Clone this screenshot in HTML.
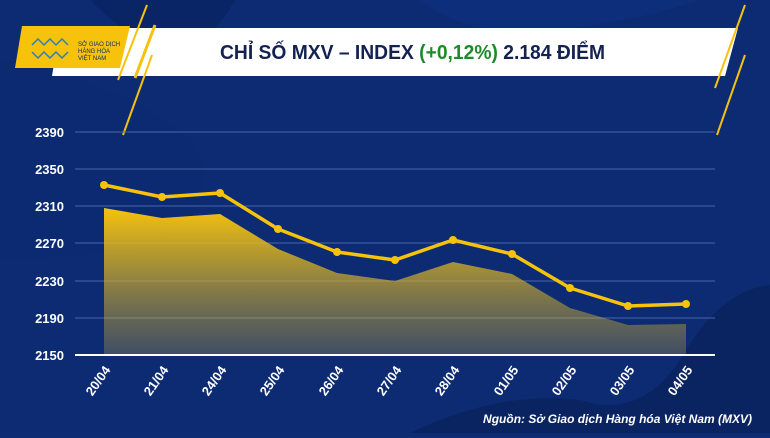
<!DOCTYPE html>
<html><head><meta charset="utf-8"><style>
body{margin:0;width:770px;height:433px;overflow:hidden;background:#0d2c74;font-family:"Liberation Sans",sans-serif}
</style></head><body>
<svg width="770" height="433" viewBox="0 0 770 433" xmlns="http://www.w3.org/2000/svg">
<defs>
<linearGradient id="ar" x1="0" y1="0" x2="0" y2="1">
<stop offset="0" stop-color="#f7c20c"/><stop offset="1" stop-color="#b8a040" stop-opacity="0.3"/>
</linearGradient>
</defs>
<rect width="770" height="433" fill="#0c2b73"/>
<path d="M90 0 Q140 50 175 48 Q210 45 235 0Z" fill="#0a2566"/>
<path d="M0 60 Q120 80 190 140 Q230 200 150 250 L0 260Z" fill="#0b2a6f" opacity="0.6"/>
<path d="M410 433 Q500 390 580 400 Q640 420 680 360 Q720 290 770 285 L770 433Z" fill="#0a2461"/>
<path d="M420 0 Q470 40 560 30 Q640 20 700 0Z" fill="#0e3080" opacity="0.6"/>
<polygon points="60,28 738,28 725,76 52,76" fill="#fff"/>
<polygon points="22,26 130,26 120,68 15,68" fill="#f7c20c"/>
<line x1="147" y1="5" x2="118" y2="80" stroke="#f7c20c" stroke-width="2"/>
<line x1="152" y1="55" x2="123" y2="135" stroke="#f7c20c" stroke-width="2"/>
<line x1="155" y1="25" x2="135" y2="78" stroke="#f7c20c" stroke-width="3"/>
<line x1="745" y1="5" x2="715" y2="88" stroke="#f7c20c" stroke-width="2"/>
<line x1="745" y1="55" x2="717" y2="135" stroke="#f7c20c" stroke-width="2"/>
<g fill="none" stroke="#2a7fbf" stroke-width="1.5">
<path d="M32 45 l6 -6 l6 6 l6 -6 l6 6 l6 -6 l6 6 M32 52 l6 6 l6 -6 l6 6 l6 -6 l6 6 l6 -6"/>
</g>
<text x="78" y="46" font-size="6" fill="#0d2c74">SỞ GIAO DỊCH</text>
<text x="78" y="53" font-size="6" fill="#0d2c74">HÀNG HÓA</text>
<text x="78" y="60" font-size="6" fill="#0d2c74">VIỆT NAM</text>
<text x="220" y="59" font-size="20" font-weight="bold" fill="#142252" textLength="385" lengthAdjust="spacingAndGlyphs">CHỈ SỐ MXV – INDEX <tspan fill="#1f8a2a">(+0,12%)</tspan> 2.184 ĐIỂM</text>
<g stroke="#4a66a8" stroke-width="1">
<line x1="75" y1="132" x2="715" y2="132"/><line x1="75" y1="169" x2="715" y2="169"/>
<line x1="75" y1="206" x2="715" y2="206"/><line x1="75" y1="243" x2="715" y2="243"/>
<line x1="75" y1="281" x2="715" y2="281"/><line x1="75" y1="318" x2="715" y2="318"/>
</g>
<g font-size="13" font-weight="bold" fill="#fff" text-anchor="end">
<text x="64" y="137">2390</text><text x="64" y="174">2350</text><text x="64" y="211">2310</text>
<text x="64" y="248">2270</text><text x="64" y="286">2230</text><text x="64" y="323">2190</text><text x="64" y="360">2150</text>
</g>
<polygon points="104,355 104,208 162,218 220,214 278,249 337,273 395,281 453,262 512,274 570,308 628,325 686,324 686,355" fill="url(#ar)"/>
<line x1="75" y1="355" x2="715" y2="355" stroke="#fff" stroke-width="2"/>
<polyline points="104,185 162,197 220,193 278,229 337,252 395,260 453,240 512,254 570,288 628,306 686,304" fill="none" stroke="#f7c20c" stroke-width="3.5" stroke-linejoin="round"/>
<g fill="#f7c20c">
<circle cx="104" cy="185" r="4"/><circle cx="162" cy="197" r="4"/><circle cx="220" cy="193" r="4"/><circle cx="278" cy="229" r="4"/><circle cx="337" cy="252" r="4"/><circle cx="395" cy="260" r="4"/><circle cx="453" cy="240" r="4"/><circle cx="512" cy="254" r="4"/><circle cx="570" cy="288" r="4"/><circle cx="628" cy="306" r="4"/><circle cx="686" cy="304" r="4"/>
</g>
<g font-size="13" font-weight="bold" fill="#fff" text-anchor="end">
<text transform="translate(111,370) rotate(-55)">20/04</text>
<text transform="translate(169,370) rotate(-55)">21/04</text>
<text transform="translate(227,370) rotate(-55)">24/04</text>
<text transform="translate(285,370) rotate(-55)">25/04</text>
<text transform="translate(344,370) rotate(-55)">26/04</text>
<text transform="translate(402,370) rotate(-55)">27/04</text>
<text transform="translate(460,370) rotate(-55)">28/04</text>
<text transform="translate(519,370) rotate(-55)">01/05</text>
<text transform="translate(577,370) rotate(-55)">02/05</text>
<text transform="translate(635,370) rotate(-55)">03/05</text>
<text transform="translate(693,370) rotate(-55)">04/05</text>
</g>
<text x="752" y="423" text-anchor="end" font-size="12" font-weight="bold" font-style="italic" fill="#fff">Nguồn: Sở Giao dịch Hàng hóa Việt Nam (MXV)</text>
</svg>
</body></html>
